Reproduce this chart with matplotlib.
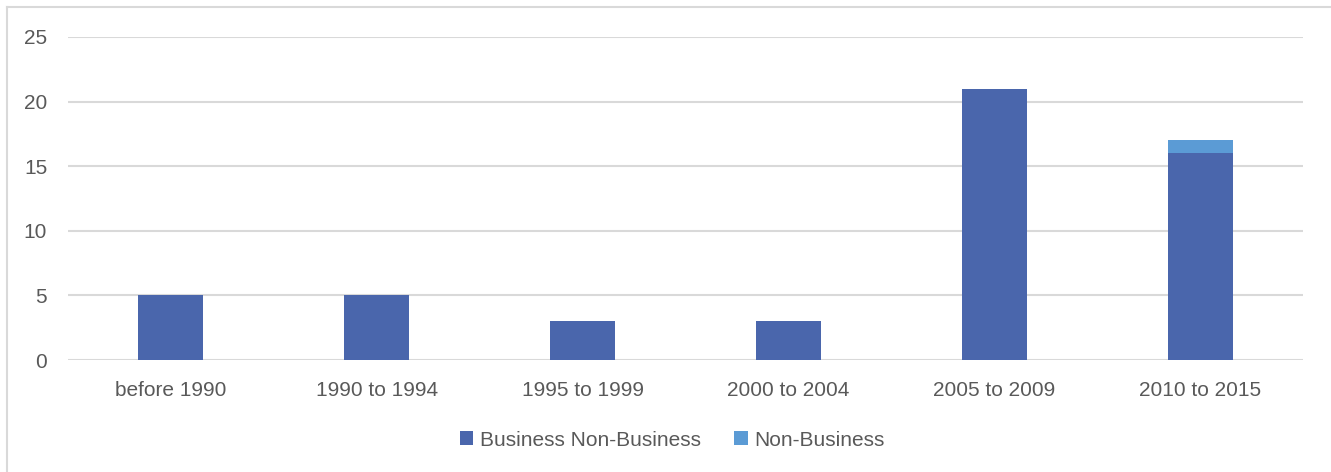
import matplotlib.pyplot as plt
from matplotlib.lines import Line2D
import numpy as np

# Periods and counts per category
periods = ["before 1990", "1990 to 1994", "1995 to 1999",
           "2000 to 2004", "2005 to 2009", "2010 to 2015"]
business = [5, 5, 3, 3, 21, 16]
non_business = [0, 0, 0, 0, 0, 1]

plt.rcParams['font.family'] = ['Liberation Sans Narrow', 'Liberation Sans', 'DejaVu Sans']
text_color = '#595959'

fig = plt.figure(figsize=(13.31, 4.72), dpi=100)
ax = fig.add_axes([68 / 1331, 1 - 360 / 472, (1303 - 68) / 1331, (360 - 37) / 472])

x = np.arange(len(periods))
ax.bar(x, business, width=0.316, color='#4A66AC', label='Business Non-Business', zorder=3)
ax.bar(x, non_business, width=0.316, bottom=business, color='#5B9BD5',
       label='Non-Business', zorder=3)

ax.set_xlim(-0.5, len(periods) - 0.5)
ax.set_ylim(0, 25)
ax.set_yticks(range(0, 26, 5))
ax.set_xticks(x)
ax.set_xticklabels(periods)
ax.grid(axis='y', color='#D9D9D9', linewidth=1.5, zorder=0)
for s in ax.spines.values():
    s.set_visible(False)
ax.tick_params(length=0, labelsize=15, colors=text_color, pad=15)
ax.tick_params(axis='y', pad=15)

ax.legend(loc='center', bbox_to_anchor=(672 / 1331, 1 - 440 / 472),
          bbox_transform=fig.transFigure, ncol=2, frameon=False,
          fontsize=15, labelcolor=text_color, handlelength=0.65, handleheight=0.65,
          handletextpad=0.3, columnspacing=1.6)

# chart frame (top and left edges)
fig.add_artist(Line2D([7 / 1331, 1], [1 - 7 / 472] * 2, color='#D9D9D9', lw=1.5))
fig.add_artist(Line2D([7 / 1331] * 2, [0, 1 - 7 / 472], color='#D9D9D9', lw=1.5))

fig.savefig('out.png', dpi=100)
